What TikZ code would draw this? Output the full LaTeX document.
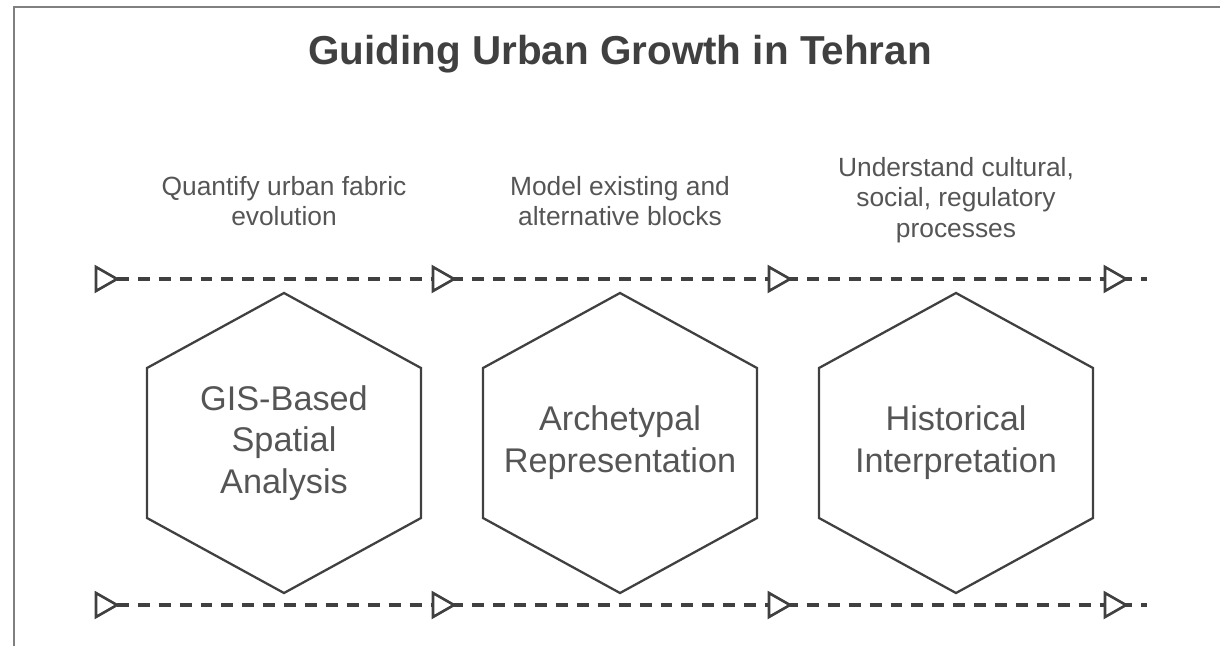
\documentclass[tikz,border=0pt]{standalone}
\usepackage{fontspec}
\setmainfont{Liberation Sans}
\usepackage{xcolor}
\usetikzlibrary{positioning,calc}

\definecolor{inkgray}{HTML}{404040}
\definecolor{textgray}{HTML}{555555}
\definecolor{framegray}{HTML}{808080}

\begin{document}
\begin{tikzpicture}[
    x=0.02cm, y=-0.02cm,
    title/.style={font=\fontsize{23pt}{27pt}\selectfont\bfseries, text=inkgray},
    note/.style={font=\fontsize{15pt}{17.5pt}\selectfont, align=center, text=textgray},
    label/.style={font=\fontsize{19.5pt}{23.8pt}\selectfont, align=center, text=textgray},
    hexline/.style={draw=inkgray, line width=1.3pt, line join=miter},
    flow/.style={draw=inkgray, line width=1.8pt, dash pattern=on 6.8pt off 5.1pt},
    tipmark/.style={draw=inkgray, fill=white, line width=1.5pt, line join=miter},
    frame/.style={draw=framegray, line width=0.8pt}
]
\useasboundingbox (0,0) rectangle (1220,646);
\draw[frame] (14,646) -- (14,7) -- (1220,7);

\node[title] (head) at (620,54) {Guiding Urban Growth in Tehran};

% notes above the flow
\node[note] (gisnote) at (284,201) {Quantify urban fabric\\evolution};
\node[note] (archnote) at (620,201) {Model existing and\\alternative blocks};
\node[note] (histnote) at (956,200) {Understand cultural,\\social, regulatory\\processes};

% hexagon steps
\node[label] (gis) at (284,443) {GIS-Based\\Spatial\\Analysis};
\node[label] (arch) at (620,443) {Archetypal\\Representation};
\node[label] (hist) at (956,443) {Historical\\Interpretation};

\foreach \h in {gis,arch,hist}
  \draw[hexline] (\h.center) +(0,-150) -- +(137,-75) -- +(137,75) -- +(0,150)
    -- +(-137,75) -- +(-137,-75) -- cycle;

% flow lines
\foreach \row/\y in {up/279,low/605} {
  \coordinate (\row0) at (96,\y);
  \coordinate (\row1) at (433,\y);
  \coordinate (\row2) at (769,\y);
  \coordinate (\row3) at (1105,\y);
  \coordinate (\row end) at (1147,\y);
  \draw[flow] (\row0) -- (\row1) -- (\row2) -- (\row3) -- (\row end);
  \foreach \k in {0,1,2,3}
    \draw[tipmark] (\row\k) ++(0,-12) -- ++(21,12) -- ++(-21,12) -- cycle;
}
\end{tikzpicture}
\end{document}
